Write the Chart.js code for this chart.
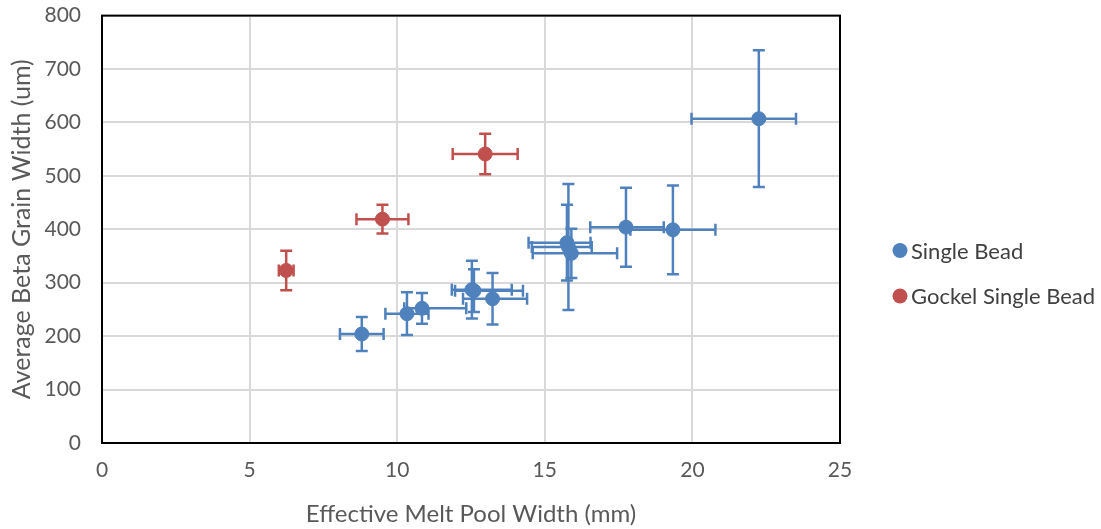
<!DOCTYPE html>
<html>
<head>
<meta charset="utf-8">
<script src="https://cdn.jsdelivr.net/npm/chart.js@4.4.1/dist/chart.umd.min.js"></script>
<style>
  html, body { margin: 0; padding: 0; background: #fff; }
  #wrap { position: relative; width: 1101px; height: 529px; }
</style>
</head>
<body>
<div id="wrap"><canvas id="chart-scatter" width="1101" height="529"></canvas></div>
<script>
// data
const seriesNames = ['Single Bead', 'Gockel Single Bead'];

const singleX = [8.8, 10.33, 10.84, 12.53, 12.6, 13.23, 15.75, 15.8, 15.9, 17.75, 19.34, 22.25];
const singleY = [204, 242, 252, 287, 285, 270, 375, 367, 355, 404, 399, 607];
const singleXErrMinus = [0.74, 0.73, 0.6, 0.68, 0.64, 1.0, 1.3, 1.24, 1.31, 1.21, 1.44, 2.28];
const singleXErrPlus = [0.74, 0.73, 1.5, 1.35, 1.66, 1.17, 0.8, 0.79, 1.55, 1.28, 1.44, 1.26];
const singleYErr = [32, 40, 29, 54, 40, 48, 71, 118, 46, 74, 83, 128];

const gockelX = [6.24, 9.5, 12.98];
const gockelY = [323, 419, 541];
const gockelXErr = [0.25, 0.88, 1.1];
const gockelYErr = [37, 27, 38];

const xTicks = [0, 5, 10, 15, 20, 25];
const yTicks = [0, 100, 200, 300, 400, 500, 600, 700, 800];

const blue = '#4F81BD';
const red = '#C0504D';
const fontFam = 'Lato, "Liberation Sans", sans-serif';

function toPoints(xs, ys) {
    return xs.map((x, i) => ({x: x, y: ys[i]}));
}

const errBars = [
    {xm: singleXErrMinus, xp: singleXErrPlus, y: singleYErr},
    {xm: gockelXErr, xp: gockelXErr, y: gockelYErr}
];

// error bars, drawn under the markers
const errorBarPlugin = {
    id: 'errorBars',
    beforeDatasetsDraw(chart) {
        const ctx = chart.ctx;
        const xs = chart.scales.x, ys = chart.scales.y;
        const cap = 6;
        chart.data.datasets.forEach((ds, d) => {
            const e = errBars[d];
            ctx.save();
            ctx.strokeStyle = ds.backgroundColor;
            ctx.lineWidth = 2.5;
            ds.data.forEach((p, i) => {
                const px = xs.getPixelForValue(p.x);
                const py = ys.getPixelForValue(p.y);
                const x1 = xs.getPixelForValue(p.x - e.xm[i]);
                const x2 = xs.getPixelForValue(p.x + e.xp[i]);
                const y1 = ys.getPixelForValue(p.y + e.y[i]);
                const y2 = ys.getPixelForValue(p.y - e.y[i]);
                ctx.beginPath();
                ctx.moveTo(x1, py); ctx.lineTo(x2, py);
                ctx.moveTo(x1, py - cap); ctx.lineTo(x1, py + cap);
                ctx.moveTo(x2, py - cap); ctx.lineTo(x2, py + cap);
                ctx.moveTo(px, y1); ctx.lineTo(px, y2);
                ctx.moveTo(px - cap, y1); ctx.lineTo(px + cap, y1);
                ctx.moveTo(px - cap, y2); ctx.lineTo(px + cap, y2);
                ctx.stroke();
            });
            ctx.restore();
        });
    },
    afterDraw(chart) {
        const ctx = chart.ctx;
        const a = chart.chartArea;
        // black frame round the plot area
        ctx.save();
        ctx.strokeStyle = '#000';
        ctx.lineWidth = 2;
        ctx.strokeRect(a.left, a.top, a.right - a.left, a.bottom - a.top);
        // legend
        ctx.font = '22px ' + fontFam;
        ctx.textBaseline = 'middle';
        chart.data.datasets.forEach((ds, d) => {
            const ly = 250.5 + d * 45.5;
            ctx.fillStyle = ds.backgroundColor;
            ctx.beginPath();
            ctx.arc(900, ly, 7.5, 0, Math.PI * 2);
            ctx.fill();
            ctx.fillStyle = '#404040';
            ctx.fillText(ds.label, 911, ly + 1);
        });
        ctx.restore();
    }
};

const dataScatter = {
    datasets: [
        {
            label: seriesNames[0],
            data: toPoints(singleX, singleY),
            backgroundColor: blue,
            borderColor: blue,
            borderWidth: 1,
            pointRadius: 7,
            pointHoverRadius: 7
        },
        {
            label: seriesNames[1],
            data: toPoints(gockelX, gockelY),
            backgroundColor: red,
            borderColor: red,
            borderWidth: 1,
            pointRadius: 7,
            pointHoverRadius: 7
        }
    ]
};

const configScatter = {
    type: 'scatter',
    data: dataScatter,
    options: {
        responsive: false,
        animation: false,
        layout: {
            padding: {top: 0, right: 261, bottom: 0, left: 0}
        },
        scales: {
            x: {
                type: 'linear',
                min: 0,
                max: 25,
                afterBuildTicks: (scale) => { scale.ticks = xTicks.map(v => ({value: v})); },
                afterFit: (scale) => { scale.height = 86; },
                grid: {color: '#d9d9d9', lineWidth: 2, drawTicks: false},
                border: {display: false},
                ticks: {
                    padding: 15,
                    color: '#595959',
                    font: {family: fontFam, size: 21}
                },
                title: {
                    display: true,
                    text: 'Effective Melt Pool Width (mm)',
                    color: '#595959',
                    font: {family: fontFam, size: 24},
                    padding: {top: 0, bottom: 0}
                }
            },
            y: {
                type: 'linear',
                min: 0,
                max: 800,
                afterBuildTicks: (scale) => { scale.ticks = yTicks.map(v => ({value: v})); },
                afterFit: (scale) => { scale.width = 102; },
                grid: {color: '#d9d9d9', lineWidth: 2, drawTicks: true, tickLength: 18, tickColor: 'rgba(0,0,0,0)'},
                border: {display: false},
                ticks: {
                    padding: 3,
                    color: '#595959',
                    font: {family: fontFam, size: 21}
                },
                title: {
                    display: true,
                    text: 'Average Beta Grain Width (um)',
                    color: '#595959',
                    font: {family: fontFam, size: 25},
                    padding: {top: 7, bottom: 0}
                }
            }
        },
        plugins: {
            legend: {display: false},
            tooltip: {enabled: false}
        }
    },
    plugins: [errorBarPlugin]
};

const chartScatter = new Chart(
    document.getElementById('chart-scatter'),
    configScatter
);
</script>
</body>
</html>
